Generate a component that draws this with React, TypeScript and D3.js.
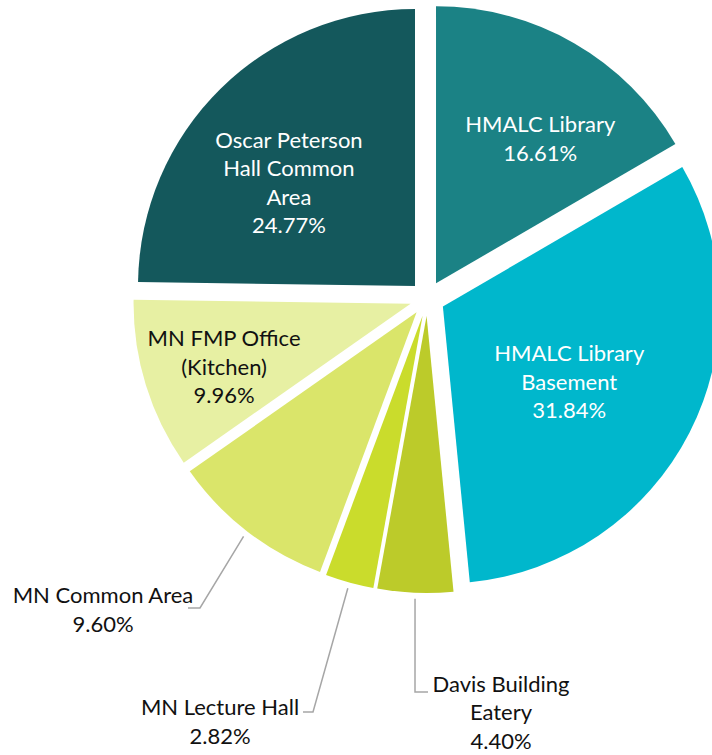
import React from "react";
import * as d3 from "d3";

const categories = [
  "HMALC Library",
  "HMALC Library Basement",
  "Davis Building Eatery",
  "MN Lecture Hall",
  "MN Common Area",
  "MN FMP Office (Kitchen)",
  "Oscar Peterson Hall Common Area",
];
const values = [16.61, 31.84, 4.4, 2.82, 9.6, 9.96, 24.77];
const labelLines = [
  ["HMALC Library"],
  ["HMALC Library", "Basement"],
  ["Davis Building", "Eatery"],
  ["MN Lecture Hall"],
  ["MN Common Area"],
  ["MN FMP Office", "(Kitchen)"],
  ["Oscar Peterson", "Hall Common", "Area"],
];
const colors = ["#1B8285", "#00B7CC", "#BCCB2A", "#CADC2C", "#DAE56A", "#E7F0A3", "#14585C"];
const textColors = ["#FFFFFF", "#FFFFFF", "#111111", "#111111", "#111111", "#111111", "#FFFFFF"];

// layout
const W = 712, H = 755;
const CX = 427.3, CY = 298.5, R = 277, EXPLODE = 17.5;
const LINE_H = 28.5;
const FONT = "Lato, 'Open Sans', sans-serif";
const FONT_SIZE = 22;
// inside labels: [angle offset (deg), radius fraction]; null = outside label
const insideLabel: ([number, number] | null)[] = [
  [5.8, 0.645],
  [3.5, 0.53],
  null,
  null,
  null,
  [-1.4, 0.71],
  [-5.9, 0.59],
];
// outside labels: elbow, end of leader, label centre
const outsideLabel: Record<number, { elbow: [number, number]; end: [number, number]; center: [number, number] }> = {
  2: { elbow: [415, 692], end: [428, 692], center: [501, 711.5] },
  3: { elbow: [313, 712], end: [303, 712], center: [220, 721] },
  4: { elbow: [200, 608], end: [188, 608], center: [103, 609] },
};

export default function App() {
  const pie = d3.pie<number>().sort(null).value((d) => d);
  const arcs = pie(values);
  const arc = d3.arc<d3.PieArcDatum<number>>().innerRadius(0).outerRadius(R);
  const dir = (a: number): [number, number] => [Math.sin(a), -Math.cos(a)];

  return (
    <svg width={W} height={H} style={{ position: "absolute", left: 0, top: 0, background: "#fff" }}
      fontFamily={FONT} fontSize={FONT_SIZE}>
      {arcs.map((a, i) => {
        const mid = (a.startAngle + a.endAngle) / 2;
        const [dx, dy] = dir(mid);
        const ox = CX + dx * EXPLODE, oy = CY + dy * EXPLODE;
        const lines = [...labelLines[i], values[i].toFixed(2) + "%"];
        let label: React.ReactNode = null;
        const ins = insideLabel[i];
        if (ins) {
          const la = mid + (ins[0] * Math.PI) / 180;
          const [lx, ly] = dir(la);
          const x = ox + lx * R * ins[1], y = oy + ly * R * ins[1];
          const y0 = y - ((lines.length - 1) * LINE_H) / 2;
          label = (
            <text textAnchor="middle" fill={textColors[i]}>
              {lines.map((t, k) => (
                <tspan key={k} x={x} y={y0 + k * LINE_H} dominantBaseline="central">{t}</tspan>
              ))}
            </text>
          );
        } else {
          const o = outsideLabel[i];
          const sx = ox + dx * (R + 6), sy = oy + dy * (R + 6);
          const [cx, cy] = o.center;
          const y0 = cy - ((lines.length - 1) * LINE_H) / 2;
          label = (
            <g>
              <polyline points={`${sx},${sy} ${o.elbow[0]},${o.elbow[1]} ${o.end[0]},${o.end[1]}`}
                fill="none" stroke="#A6A6A6" strokeWidth={1.5} />
              <text textAnchor="middle" fill={textColors[i]}>
                {lines.map((t, k) => (
                  <tspan key={k} x={cx} y={y0 + k * LINE_H} dominantBaseline="central">{t}</tspan>
                ))}
              </text>
            </g>
          );
        }
        return (
          <g key={categories[i]}>
            <path d={arc(a) || ""} transform={`translate(${ox},${oy})`} fill={colors[i]} />
            {label}
          </g>
        );
      })}
    </svg>
  );
}
